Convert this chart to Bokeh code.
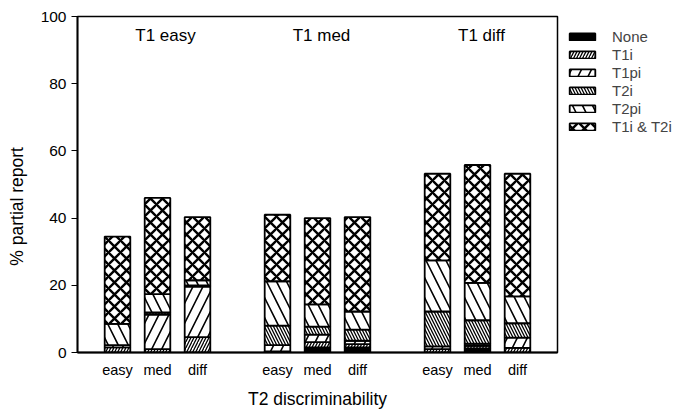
from bokeh.plotting import figure
from bokeh.models import ColumnDataSource, FixedTicker, Legend, Range1d
from bokeh.core.properties import value
from bokeh.embed import file_html
from bokeh.resources import INLINE

# Response categories, stacked bottom to top
categories = ["None", "T1i", "T1pi", "T2i", "T2pi", "T1i & T2i"]
keys = ["none", "t1i", "t1pi", "t2i", "t2pi", "both"]

groups = ["T1 easy", "T1 med", "T1 diff"]
t2_levels = ["easy", "med", "diff"]

# One value per bar: T1 easy (easy, med, diff), T1 med (...), T1 diff (...)
none_vals = [0.0, 0.0, 0.0, 0.0, 1.5, 1.5, 0.0, 1.2, 0.0]
t1i_vals  = [1.5, 1.0, 4.6, 0.3, 1.6, 1.0, 1.0, 0.8, 1.4]
t1pi_vals = [0.7, 10.3, 15.0, 1.9, 2.2, 1.0, 0.8, 0.6, 3.0]
t2i_vals  = [0.0, 0.6, 0.4, 5.8, 2.4, 3.3, 10.4, 7.0, 4.3]
t2pi_vals = [6.3, 5.5, 1.5, 13.2, 6.6, 5.4, 15.2, 11.1, 8.0]
both_vals = [26.0, 28.6, 18.8, 19.8, 25.7, 28.1, 25.8, 35.1, 36.5]

# bar slots along the x axis: three bars per group, one empty slot between groups
xpos = [1, 2, 3, 5, 6, 7, 9, 10, 11]
title_x = [2.2, 6.1, 10.1]

src = ColumnDataSource(dict(x=xpos, none=none_vals, t1i=t1i_vals, t1pi=t1pi_vals,
                            t2i=t2i_vals, t2pi=t2pi_vals, both=both_vals))

FONT = "Liberation Sans"

p = figure(frame_width=480, frame_height=336, output_backend="svg",
           toolbar_location=None,
           x_range=Range1d(0, 12), y_range=Range1d(0, 100),
           min_border_left=77, min_border_right=122, min_border_top=16,
           min_border_bottom=0)
p.grid.visible = False
p.background_fill_color = "white"
p.outline_line_color = "black"
p.outline_line_width = 1.5

renderers = p.vbar_stack(
    keys, x="x", width=0.64, source=src,
    fill_color=["black", "white", "white", "white", "white", "white"],
    hatch_pattern=[" ", "/", "/", "\\", "\\", "x"],
    hatch_scale=[6, 6, 20, 6, 20, 12],
    hatch_weight=[1, 1.3, 1.6, 1.3, 1.6, 2.4],
    hatch_color="black",
    line_color="black", line_width=1.8,
)

# group headings inside the plot
p.text(x=title_x, y=[94.2] * 3, text=groups, text_align="center",
       text_baseline="alphabetic", text_font=value(FONT), text_font_size="17px",
       text_color="black")

# x axis: T2 level under every bar
p.xaxis.ticker = FixedTicker(ticks=xpos)
p.xaxis.major_label_overrides = {x: t2_levels[i % 3] for i, x in enumerate(xpos)}
p.xaxis.major_tick_line_color = None
p.xaxis.minor_tick_line_color = None
p.xaxis.axis_line_width = 1.8
p.xaxis.major_label_standoff = 3
p.xaxis.axis_label = "T2 discriminability"
p.xaxis.axis_label_standoff = 8
p.xaxis.major_label_text_font_size = "14.5px"

p.yaxis.ticker = FixedTicker(ticks=[0, 20, 40, 60, 80, 100])
p.yaxis.minor_tick_line_color = None
p.yaxis.major_tick_in = 0
p.yaxis.major_tick_out = 6
p.yaxis.axis_line_width = 1.8
p.yaxis.major_label_standoff = 5
p.yaxis.major_label_text_font_size = "15.5px"
# trailing no-break spaces shift the rotated title toward the lower end
p.yaxis.axis_label = "% partial report" + "\u00a0" * 9
p.yaxis.axis_label_standoff = 11

for ax in (p.xaxis, p.yaxis):
    ax.major_label_text_font = FONT
    ax.major_label_text_color = "black"
    ax.axis_label_text_font = FONT
    ax.axis_label_text_font_size = "17.5px"
    ax.axis_label_text_font_style = "normal"
    ax.axis_label_text_color = "black"

# legend sits in the right-hand panel, offset from the frame edge
legend = Legend(items=[(c, [r]) for c, r in zip(categories, renderers)],
                location=(9, 217), orientation="vertical",
                glyph_width=32, glyph_height=9, label_height=14,
                spacing=1, padding=0, margin=0, label_standoff=14,
                label_text_font=FONT, label_text_font_size="15px",
                label_text_baseline="middle",
                border_line_color=None, background_fill_alpha=0)
p.add_layout(legend, "right")

open("out.html", "w").write(file_html(p, INLINE))
